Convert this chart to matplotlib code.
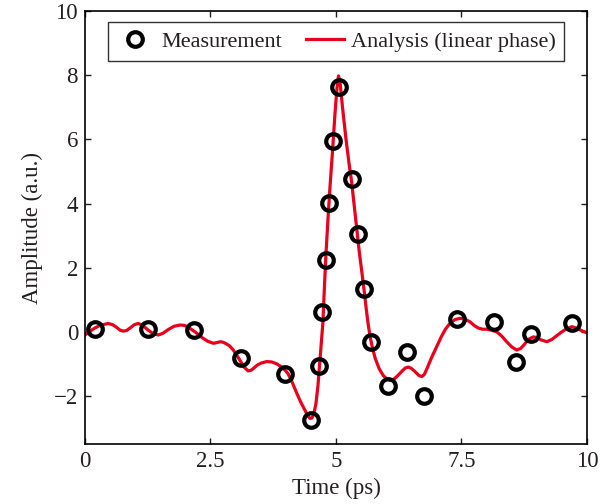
import numpy as np
import matplotlib.pyplot as plt

plt.rcParams['font.family'] = ['Liberation Serif', 'DejaVu Serif']

# measured points
t_meas = [0.20, 1.26, 2.17, 3.10, 3.98, 4.51, 4.67, 4.73, 4.81, 4.86, 4.94, 5.06,
          5.31, 5.43, 5.55, 5.70, 6.04, 6.42, 6.76, 7.42, 8.15, 8.59, 8.89, 9.71]
a_meas = [0.09, 0.09, 0.04, -0.82, -1.31, -2.75, -1.08, 0.63, 2.23, 4.02, 5.96, 7.64,
          4.76, 3.04, 1.34, -0.33, -1.68, -0.64, -2.01, 0.41, 0.30, -0.93, -0.06, 0.28]

# analysis curve (linear phase)
t_fit = [0.0, 0.1, 0.2, 0.3, 0.46, 0.55, 0.62, 0.70, 0.76, 0.83, 0.9, 0.98, 1.06,
         1.15, 1.26, 1.36, 1.46, 1.55, 1.65, 1.77, 1.89, 1.98, 2.05, 2.19, 2.27,
         2.35, 2.45, 2.56, 2.64, 2.70, 2.76, 2.82, 2.88, 2.95, 3.02, 3.09, 3.17,
         3.25, 3.31, 3.37, 3.44, 3.52, 3.62, 3.72, 3.82, 3.92, 4.0, 4.05, 4.13,
         4.22, 4.30, 4.38, 4.44, 4.48, 4.52, 4.56, 4.60, 4.64, 4.68, 4.71, 4.74,
         4.77, 4.80, 4.84, 4.88, 4.93, 4.98, 5.02, 5.05, 5.08, 5.13, 5.20, 5.26,
         5.31, 5.38, 5.46, 5.52, 5.56, 5.60, 5.64, 5.68, 5.72, 5.78, 5.86, 5.94,
         6.02, 6.08, 6.14, 6.21, 6.32, 6.38, 6.44, 6.50, 6.58, 6.65, 6.71, 6.76,
         6.82, 6.90, 7.01, 7.10, 7.18, 7.27, 7.37, 7.47, 7.57, 7.67, 7.75, 7.83,
         7.92, 8.0, 8.10, 8.20, 8.30, 8.40, 8.50, 8.60, 8.68, 8.76, 8.84, 8.93,
         9.00, 9.08, 9.20, 9.30, 9.40, 9.50, 9.60, 9.70, 9.80, 9.90, 10.0]
a_fit = [-0.10, 0.02, 0.12, 0.20, 0.26, 0.22, 0.15, 0.05, 0.02, 0.04, 0.12, 0.22, 0.26,
         0.20, 0.05, -0.06, -0.10, -0.05, 0.06, 0.17, 0.21, 0.20, 0.15, 0.0, -0.10,
         -0.20, -0.30, -0.36, -0.33, -0.31, -0.33, -0.38, -0.44, -0.56, -0.72, -0.90, -1.10,
         -1.22, -1.20, -1.12, -1.03, -0.97, -0.93, -0.94, -1.00, -1.10, -1.22, -1.32, -1.58,
         -1.92, -2.20, -2.44, -2.62, -2.70, -2.69, -2.55, -2.25, -1.70, -0.90, -0.30, 0.30,
         1.40, 2.40, 3.50, 4.50, 5.60, 6.80, 7.60, 7.98, 7.80, 7.00, 6.00, 5.25,
         4.70, 3.70, 2.55, 1.80, 1.30, 0.75, 0.25, -0.15, -0.45, -0.82, -1.15, -1.36,
         -1.48, -1.52, -1.49, -1.40, -1.22, -1.13, -1.10, -1.14, -1.25, -1.36, -1.40, -1.33,
         -1.12, -0.82, -0.45, -0.15, 0.08, 0.26, 0.38, 0.42, 0.39, 0.31, 0.20, 0.12,
         0.08, 0.08, 0.05, 0.0, -0.13, -0.31, -0.47, -0.57, -0.52, -0.38, -0.23, -0.16,
         -0.18, -0.25, -0.31, -0.24, -0.12, 0.0, 0.10, 0.16, 0.11, 0.03, -0.03]

fig = plt.figure(figsize=(6.07, 5.04), dpi=100)
ax = fig.add_axes([0.140, 0.119, 0.827, 0.859])

ax.plot(t_meas, a_meas, 'o', mfc='none', mec='black', mew=3.0, ms=10.5,
        label='Measurement', zorder=3)
ax.plot(t_fit, a_fit, '-', color='#e8001c', lw=2.3,
        label='Analysis (linear phase)', zorder=2)

ax.set_xlim(0, 10)
ax.set_ylim(-3.5, 10)
ax.set_xticks([0, 2.5, 5, 7.5, 10])
ax.set_xticklabels(['0', '2.5', '5', '7.5', '10'])
ax.set_yticks([-2, 0, 2, 4, 6, 8, 10])
ax.set_yticklabels(['\u22122', '0', '2', '4', '6', '8', '10'])
ax.tick_params(direction='in', length=4, width=1, top=True, right=True,
               labelsize=16.5, colors='#231f20', pad=5)
for s in ax.spines.values():
    s.set_linewidth(1.2)

ax.set_xlabel('Time (ps)', fontsize=16.5, color='#231f20', labelpad=4)
ax.set_ylabel('Amplitude (a.u.)', fontsize=16.5, color='#231f20', labelpad=8)

leg = ax.legend(loc='upper center', ncol=2, fontsize=16, frameon=True,
                fancybox=False, edgecolor='black', handlelength=1.7,
                columnspacing=1.1, handletextpad=0.3, borderpad=0.4,
                borderaxespad=0.5, bbox_to_anchor=(0.5, 1.0))
leg.get_frame().set_linewidth(1.0)
for txt in leg.get_texts():
    txt.set_color('#231f20')

fig.savefig('out.png', dpi=100)
